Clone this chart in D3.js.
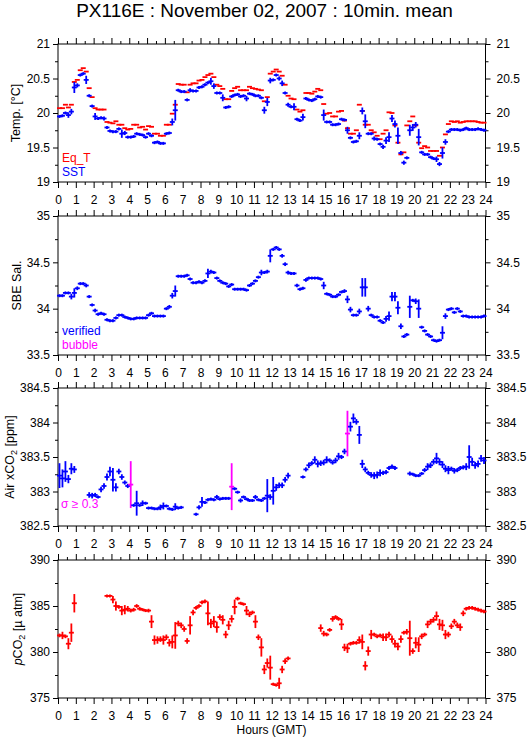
<!DOCTYPE html>
<html><head><meta charset="utf-8">
<script src="https://cdn.jsdelivr.net/npm/d3@7"></script>
<style>body{margin:0;background:#fff}</style>
</head><body>
<svg id="c" width="529" height="739"></svg>
<script>
// ---- data (10-minute means, 6 per hour) ----
const hourTicks = [0,1,2,3,4,5,6,7,8,9,10,11,12,13,14,15,16,17,18,19,20,21,22,23,24];
const tempTicks = [19,19.5,20,20.5,21];
const salTicks = [33.5,34,34.5,35];
const airTicks = [382.5,383,383.5,384,384.5];
const pco2Ticks = [375,380,385,390];

const eqT = [
20.07,20.07,20.12,20.08,20.12,20.45, 20.48,20.62,20.65,20.60,20.36,20.23,
20.07,20.05,20.05,20.05,19.87,19.86, 19.85,19.88,19.83,19.83,19.78,19.76,
19.77,19.83,19.83,19.79,19.80,19.76, 19.81,19.80,19.70,19.70,19.67,19.67,
19.83,19.83,19.99,20.12,20.42,20.41, 20.41,20.30,20.41,20.43,20.43,20.47,
20.48,20.52,20.55,20.57,20.52,20.41, 20.39,20.35,20.20,20.20,20.32,20.36,
20.38,20.33,20.33,20.33,20.38,20.36, 20.35,20.34,20.33,20.17,20.23,20.57,
20.60,20.63,20.60,20.54,20.41,20.25, 20.21,20.20,20.05,20.02,20.04,20.29,
20.29,20.28,20.31,20.35,20.33,20.13, 19.99,20.00,19.95,19.95,20.02,20.03,
19.89,19.78,19.70,19.70,19.75,20.12, 20.03,19.83,19.83,19.75,19.72,19.67,
19.62,19.70,19.75,20.01,20.00,19.82, 19.57,19.40,19.43,19.82,19.88,19.95,
19.82,19.57,19.49,19.52,19.50,19.45, 19.45,19.45,19.38,19.50,19.69,19.84,
19.88,19.87,19.88,19.86,19.87,19.88, 19.88,19.88,19.88,19.87,19.86,19.86];

const sst = [
19.95,19.96,20.00,19.97,20.02,20.37, 20.40,20.55,20.57,20.48,20.25,20.10,
19.95,19.92,19.93,19.92,19.79,19.74, 19.73,19.73,19.77,19.70,19.71,19.65,
19.65,19.66,19.70,19.69,19.68,19.65, 19.70,19.67,19.57,19.58,19.56,19.56,
19.70,19.71,19.87,20.04,20.33,20.31, 20.31,20.19,20.33,20.32,20.32,20.37,
20.38,20.41,20.44,20.46,20.39,20.29, 20.29,20.22,20.08,20.09,20.24,20.26,
20.27,20.24,20.25,20.21,20.28,20.27, 20.25,20.25,20.22,20.04,20.16,20.47,
20.48,20.55,20.50,20.43,20.29,20.12, 20.09,20.09,19.91,19.89,19.94,20.21,
20.19,20.18,20.20,20.24,20.23,19.97, 19.87,19.87,19.83,19.83,19.84,19.91,
19.90,19.75,19.64,19.58,19.59,19.67, 20.03,19.88,19.70,19.70,19.63,19.62,
19.55,19.51,19.60,19.65,19.92,19.84, 19.67,19.42,19.28,19.35,19.75,19.79,
19.83,19.65,19.43,19.40,19.40,19.36, 19.34,19.33,19.26,19.42,19.58,19.73,
19.76,19.76,19.76,19.75,19.76,19.78, 19.76,19.76,19.76,19.77,19.76,19.75];
const sstErr = [
.01,.01,.01,.04,.04,.08, .03,.01,.01,.06,.02,.02,
.05,.02,.01,.03,.01,.01, .01,.01,.01,.06,.03,.01,
.01,.01,.02,.01,.01,.01, .02,.01,.02,.02,.01,.01,
.01,.01,.05,.15,.02,.01, .01,.02,.03,.02,.01,.02,
.02,.01,.02,.05,.04,.02, .01,.05,.01,.02,.01,.02,
.02,.01,.01,.04,.02,.01, .01,.01,.02,.05,.06,.04,
.02,.02,.03,.04,.01,.03, .02,.05,.02,.02,.05,.01,
.01,.01,.01,.02,.02,.08, .01,.01,.01,.01,.01,.02,
.02,.05,.02,.01,.01,.05, .05,.10,.01,.01,.03,.02,
.02,.03,.05,.07,.05,.05, .12,.03,.03,.02,.08,.05,
.04,.12,.02,.01,.01,.01, .01,.04,.03,.08,.04,.02,
.02,.01,.01,.01,.01,.01, .01,.01,.01,.01,.01,.01];

const sal = [
34.14,34.14,34.17,34.17,34.13,34.17, 34.22,34.27,34.27,34.25,34.13,34.04,
33.98,33.94,33.95,33.94,33.88,33.87, 33.87,33.90,33.93,33.93,33.91,33.90,
33.89,33.89,33.90,33.90,33.90,33.90, 33.93,33.95,33.92,33.92,33.92,33.92,
34.00,34.02,34.14,34.19,34.35,34.35, 34.35,34.36,34.32,34.28,34.28,34.29,
34.28,34.30,34.38,34.40,34.39,34.33, 34.30,34.28,34.27,34.24,34.26,34.21,
34.21,34.21,34.21,34.20,34.25,34.27, 34.30,34.34,34.39,34.39,34.40,34.57,
34.64,34.66,34.64,34.57,34.48,34.39, 34.38,34.38,34.25,34.21,34.22,34.31,
34.33,34.33,34.33,34.33,34.32,34.25, 34.16,34.15,34.13,34.13,34.15,34.18,
34.19,34.10,33.99,33.93,33.93,33.97, 34.23,34.23,34.00,33.93,33.91,33.91,
33.87,33.85,33.89,33.92,34.13,34.13, 34.01,33.81,33.70,33.72,34.02,34.09,
34.08,34.00,33.80,33.76,33.72,33.70, 33.66,33.65,33.66,33.74,33.92,33.99,
34.00,33.96,34.00,33.97,33.92,33.92, 33.91,33.91,33.91,33.91,33.91,33.92];
const salErr = [
.01,.01,.01,.01,.03,.05, .02,.01,.01,.02,.01,.01,
.02,.01,.01,.01,.01,.01, .01,.01,.01,.01,.01,.01,
.01,.01,.01,.01,.01,.01, .01,.01,.01,.01,.01,.01,
.01,.02,.03,.06,.01,.01, .01,.01,.01,.01,.01,.01,
.01,.01,.05,.02,.01,.01, .01,.01,.01,.01,.01,.01,
.01,.01,.01,.01,.01,.01, .01,.01,.03,.01,.02,.07,
.01,.01,.01,.02,.02,.02, .01,.01,.02,.01,.01,.02,
.01,.01,.01,.01,.01,.04, .01,.01,.01,.01,.01,.01,
.02,.04,.03,.01,.01,.03, .10,.10,.03,.01,.01,.01,
.01,.01,.03,.05,.05,.05, .07,.03,.01,.01,.12,.01,
.03,.10,.01,.01,.01,.01, .01,.01,.01,.07,.03,.01,
.01,.01,.01,.01,.01,.01, .01,.01,.01,.01,.01,.01];

const airCO2 = [
383.23,383.19,383.29,383.18,383.33,383.32, null,null,null,null,382.95,382.94,
382.95,382.92,383.03,383.08,383.21,383.29, 383.17,383.06,383.29,383.21,383.13,383.08,
383.10,382.80,382.83,382.80,382.83,382.83, 382.76,382.76,382.75,382.75,382.77,382.79,
382.79,382.75,382.74,382.78,382.76,382.77, null,null,null,null,382.67,382.77,
382.85,382.84,382.88,382.89,382.88,382.92, 382.89,382.90,382.90,382.90,383.07,383.04,
382.99,382.87,382.92,382.89,382.87,382.87, 382.92,382.88,382.87,382.90,382.94,382.92,
383.01,383.06,383.09,383.09,383.17,383.23, null,null,null,null,383.21,383.32,
383.38,383.41,383.46,383.40,383.41,383.42, 383.46,383.45,383.42,383.45,383.51,383.50,
383.58,383.84,383.94,384.06,384.01,383.82, 383.40,383.32,383.27,383.24,383.23,383.24,
383.27,383.27,383.28,383.34,383.36,383.34, null,null,null,null,383.26,383.25,
383.23,383.23,383.26,383.31,383.36,383.38, 383.43,383.48,383.43,383.39,383.33,383.31,
383.33,383.30,383.31,383.34,383.35,383.36, 383.50,383.43,383.38,383.40,383.48,383.45];
const airErr = [
.18,.13,.15,.06,.08,.05, 0,0,0,0,.04,.04,
.03,.02,.04,.04,.05,.07, .17,.06,.04,.04,.03,.03,
.34,.02,.18,.02,.04,.02, .02,.02,.02,.02,.04,.05,
.02,.02,.02,.05,.02,.02, 0,0,0,0,.02,.03,
.07,.02,.02,.02,.02,.03, .02,.02,.02,.02,.34,.02,
.02,.03,.02,.02,.02,.02, .03,.02,.02,.02,.24,.04,
.20,.05,.04,.04,.04,.04, 0,0,0,0,.02,.03,
.04,.03,.05,.05,.04,.04, .05,.03,.03,.04,.05,.03,
.04,.33,.07,.07,.04,.13, .06,.04,.03,.04,.05,.05,
.05,.03,.03,.03,.03,.03, 0,0,0,0,.03,.02,
.02,.02,.02,.03,.05,.04, .04,.08,.05,.05,.05,.06,
.03,.04,.03,.03,.03,.05, .17,.06,.05,.05,.05,.05];

const pco2 = [
381.8,381.8,381.7,380.9,382.1,385.3, null,null,null,null,null,null,
null,null,null,null,386.1,386.1, 385.7,385.0,384.9,384.5,384.6,384.7,
384.5,384.6,385.0,384.7,384.6,384.5, 384.5,383.3,381.3,381.3,381.4,381.3,
381.6,381.0,381.1,381.8,383.1,382.9, 382.5,381.2,382.9,384.3,384.8,385.0,
385.4,385.5,384.2,383.1,383.3,382.7, 383.8,383.5,381.9,382.9,383.6,384.9,
385.8,385.3,385.2,384.5,384.1,384.3, 383.3,381.6,380.5,378.1,378.8,378.3,
376.5,376.4,376.6,378.1,379.0,379.3, null,null,null,null,null,null,
null,null,null,null,382.6,382.0, 381.9,382.4,383.6,383.8,383.6,383.0,
380.5,380.4,380.9,381.0,381.0,381.3, 381.1,378.5,380.1,381.9,381.9,381.7,
381.8,381.6,381.6,381.9,381.4,380.9, 380.6,381.4,382.1,382.2,381.5,380.1,
381.0,380.8,381.7,381.9,383.0,383.3, 383.5,383.9,383.0,382.9,381.9,381.9,
382.8,383.3,382.9,382.7,384.2,384.7, 384.8,384.8,384.7,384.6,384.5,384.4];
const pco2Err = [
.2,.4,.2,.6,1.0,1.0, 0,0,0,0,0,0,
0,0,0,0,.1,.1, .4,.5,.2,.5,.5,.3,
.2,.2,.2,.2,.1,.1, .2,.7,.5,.4,.3,.5,
.3,.4,.7,1.45,.3,.3, .3,.3,1.0,.3,.2,.2,
.2,.2,1.3,.5,.6,.6, .3,.5,.4,.5,.4,.8,
.2,.1,.1,.5,.3,.2, .7,.3,1.0,.5,.5,1.3,
.1,.1,.6,.4,.3,.2, 0,0,0,0,0,0,
0,0,0,0,.4,.3, .2,.2,.3,.2,.2,.6,
.4,.5,.2,.2,.2,.4, .8,.5,.5,.5,.2,.2,
.2,.4,.4,.3,.4,.4, .4,.4,.2,.3,1.9,.3,
.6,.8,.3,.2,.4,.3, .3,.5,.6,.6,.5,.3,
.3,.3,.3,.4,.3,.2, .2,.2,.2,.2,.2,.2];

const times = d3.range(eqT.length).map(i => (i + 0.5) / 6);
const sigmaLimit = 0.3;

// ---- drawing ----
const FONT = '"Liberation Sans", Arial, Helvetica, sans-serif';
const BLUE = '#0000ff', RED = '#ff0000', MAG = '#ff00ff';
const svg = d3.select('#c').style('font-family', FONT);
const X0 = 58, X1 = 485.5;
const x = d3.scaleLinear().domain([0, 24]).range([X0, X1]);
const halfHours = d3.range(0.5, 24, 1);
const HW = 0.14;

svg.append('text').attr('x', 264.5).attr('y', 17).attr('text-anchor', 'middle')
  .attr('font-size', 19).text('PX116E : November 02, 2007 : 10min. mean');

const panels = [
  {top: 44, bottom: 182, domain: [19, 21], ticks: tempTicks, minor: 0.25, titleX: 20},
  {top: 216, bottom: 355, domain: [33.5, 35], ticks: salTicks, minor: 0.25, titleX: 21},
  {top: 388, bottom: 526, domain: [382.5, 384.5], ticks: airTicks, minor: 0.25, titleX: 14},
  {top: 560, bottom: 698, domain: [375, 390], ticks: pco2Ticks, minor: 2.5, titleX: 22}
];

function styleAxis(g) {
  g.attr('font-family', FONT).attr('font-size', 12);
  g.select('.domain').remove();
  g.selectAll('line').attr('stroke', '#000');
  g.selectAll('text').attr('fill', '#000');
}

panels.forEach((p, k) => {
  const y = d3.scaleLinear().domain(p.domain).range([p.bottom, p.top]);
  p.y = y;
  const minorY = d3.range(p.domain[0], p.domain[1] + 1e-9, p.minor).filter(v => !p.ticks.some(t => Math.abs(t - v) < 1e-9));
  const g = svg.append('g');
  g.append('g').attr('transform', `translate(0,${p.bottom})`)
    .call(d3.axisBottom(x).tickValues(hourTicks).tickSize(6).tickPadding(7).tickFormat(d3.format('d'))).call(styleAxis);
  g.append('g').attr('transform', `translate(0,${p.bottom})`)
    .call(d3.axisBottom(x).tickValues(halfHours).tickSize(3).tickFormat('')).call(styleAxis);
  g.append('g').attr('transform', `translate(0,${p.top})`)
    .call(d3.axisTop(x).tickValues(hourTicks).tickSize(6).tickFormat('')).call(styleAxis);
  g.append('g').attr('transform', `translate(0,${p.top})`)
    .call(d3.axisTop(x).tickValues(halfHours).tickSize(3).tickFormat('')).call(styleAxis);
  g.append('g').attr('transform', `translate(${X0},0)`)
    .call(d3.axisLeft(y).tickValues(p.ticks).tickSize(5).tickPadding(3).tickFormat(d => String(d))).call(styleAxis);
  g.append('g').attr('transform', `translate(${X0},0)`)
    .call(d3.axisLeft(y).tickValues(minorY).tickSize(3).tickFormat('')).call(styleAxis);
  g.append('g').attr('transform', `translate(${X1},0)`)
    .call(d3.axisRight(y).tickValues(p.ticks).tickSize(5).tickPadding(6).tickFormat(d => String(d))).call(styleAxis);
  g.append('g').attr('transform', `translate(${X1},0)`)
    .call(d3.axisRight(y).tickValues(minorY).tickSize(3).tickFormat('')).call(styleAxis);
  g.append('rect').attr('x', X0).attr('y', p.top).attr('width', X1 - X0).attr('height', p.bottom - p.top)
    .attr('fill', 'none').attr('stroke', '#000').attr('stroke-width', 1);
});

function crosses(p, vals, errs, colorFn, minArm) {
  const y = p.y;
  const g = svg.append('g').attr('stroke-width', 1.8).attr('fill', 'none');
  vals.forEach((v, i) => {
    if (v == null) return;
    const t = times[i], c = colorFn(i);
    g.append('line').attr('x1', x(t - HW)).attr('x2', x(t + HW)).attr('y1', y(v)).attr('y2', y(v)).attr('stroke', c);
    if (errs) {
      const e = errs[i];
      let ya = y(v + e), yb = y(v - e);
      if (yb - ya < 2 * minArm) { ya = y(v) - minArm; yb = y(v) + minArm; }
      g.append('line').attr('x1', x(t)).attr('x2', x(t)).attr('y1', ya).attr('y2', yb).attr('stroke', c);
    }
  });
}

crosses(panels[0], eqT, null, () => RED, 0);
crosses(panels[0], sst, sstErr, () => BLUE, 1.5);
crosses(panels[1], sal, salErr, () => BLUE, 1.5);
crosses(panels[2], airCO2, airErr, i => airErr[i] >= sigmaLimit ? MAG : BLUE, 1.5);
crosses(panels[3], pco2, pco2Err, () => RED, 1.5);

// y titles
function ytitle(p, build) {
  const cy = (p.top + p.bottom) / 2;
  const t = svg.append('text').attr('transform', `translate(${p.titleX},${cy}) rotate(-90)`)
    .attr('text-anchor', 'middle').attr('font-size', 12.5);
  build(t);
}
ytitle(panels[0], t => t.text('Temp. [°C]'));
ytitle(panels[1], t => t.text('SBE Sal.'));
ytitle(panels[2], t => {
  t.append('tspan').text('Air xCO');
  t.append('tspan').attr('dy', 3).attr('font-size', 9).text('2');
  t.append('tspan').attr('dy', -3).text(' [ppm]');
});
ytitle(panels[3], t => {
  t.append('tspan').attr('font-style', 'italic').text('p');
  t.append('tspan').text('CO');
  t.append('tspan').attr('dy', 3).attr('font-size', 9).text('2');
  t.append('tspan').attr('dy', -3).text(' [µ atm]');
});

// legends
const leg = [
  {x: 62, y: 162, c: RED, s: 'Eq_T'},
  {x: 62, y: 176, c: BLUE, s: 'SST'},
  {x: 62, y: 335, c: BLUE, s: 'verified'},
  {x: 62, y: 349, c: MAG, s: 'bubble'},
  {x: 61, y: 508, c: MAG, s: 'σ ≥ 0.3'}
];
leg.forEach(d => svg.append('text').attr('x', d.x).attr('y', d.y).attr('fill', d.c).attr('font-size', 12).text(d.s));

svg.append('text').attr('x', 271.5).attr('y', 734).attr('text-anchor', 'middle').attr('font-size', 12).text('Hours (GMT)');
</script>
</body></html>
